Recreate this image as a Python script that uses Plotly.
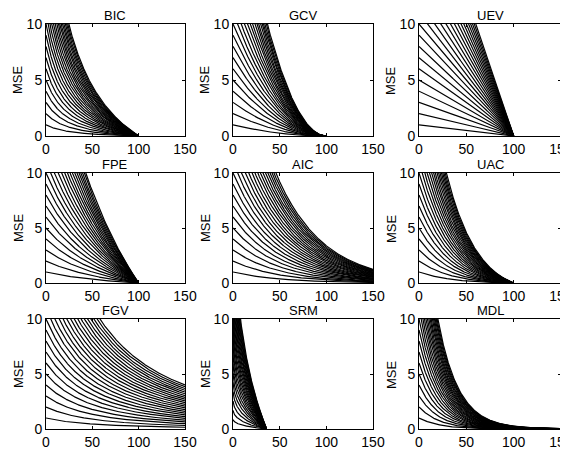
import numpy as np
import plotly.graph_objects as go

# ---- data ----
criteria = ["BIC", "GCV", "UEV", "FPE", "AIC", "UAC", "FGV", "SRM", "MDL"]
levels = [1, 2, 3, 4, 5, 6, 7, 8, 9, 10, 11, 12, 13, 14, 15, 16, 17, 18, 19, 20,
          21, 22, 23, 24, 25]          # criterion value (MSE at h = 0)
N = 100                                 # number of training samples
x_ticks = [0, 50, 100, 150]
y_ticks = [0, 5, 10]
h = np.linspace(0, 150, 1201)           # effective number of parameters


def srm_factor(hh):
    eta = min(4 / np.sqrt(N), 1.0)
    with np.errstate(divide="ignore", invalid="ignore"):
        t = np.where(hh > 0, hh * (np.log(2 * N / np.maximum(hh, 1e-12)) + 1), 0.0)
    eps = (t - np.log(eta / 4)) / N
    f = 1 - np.sqrt(np.clip(eps, 0, None))
    return np.where(f > 0, f, np.nan)


def shrink(name, hh):
    """1 / penalty factor: MSE = criterion / penalty(h)"""
    with np.errstate(divide="ignore", invalid="ignore"):
        if name == "UEV":
            f = (N - hh) / N
        elif name == "FPE":
            f = (N - hh) / (N + hh)
        elif name == "GCV":
            f = np.where(hh <= N, ((N - hh) / N) ** 2, np.nan)
        elif name == "BIC":
            f = (N - hh) / (N + (np.log(N) - 1) * hh)
        elif name == "AIC":
            f = np.exp(-2 * hh / N)
        elif name == "UAC":
            f = (N - hh) / N * np.exp(-2 * hh / N)
        elif name == "FGV":
            f = 1 / (1 + hh / N) ** 2
        elif name == "MDL":
            f = np.exp(-hh * np.log(N) / N)
        elif name == "SRM":
            return srm_factor(hh)
    f = np.asarray(f, dtype=float)
    return np.where(f >= 0, f, np.nan)


# page body has an 8px margin, so the figure is drawn 8px right/down
OFF = 8
W, H = 568 - OFF, 449 - OFF
col_px = [(46, 185), (233, 373), (419, 561)]
row_px = [(24, 136), (173, 283), (319, 429)]
FONT = "Liberation Sans, Arial"

fig = go.Figure()
annotations = []
for i, name in enumerate(criteria):
    r, c = divmod(i, 3)
    ax = "" if i == 0 else str(i + 1)
    f = shrink(name, h)
    xs, ys = [], []
    for lv in levels:
        xs.extend(list(h)); xs.append(None)
        ys.extend(list(lv * f)); ys.append(None)
    fig.add_trace(go.Scatter(x=xs, y=ys, mode="lines",
                             line=dict(color="black", width=1.2),
                             xaxis="x" + ax, yaxis="y" + ax,
                             showlegend=False, hoverinfo="skip",
                             connectgaps=False))
    x0, x1 = col_px[c]
    y0, y1 = row_px[r]
    dx = [(x0 - OFF) / W, (x1 - OFF) / W]
    dy = [1 - (y1 - OFF) / H, 1 - (y0 - OFF) / H]
    axis_common = dict(showline=True, linecolor="black", linewidth=1,
                       mirror="ticks", ticks="inside", ticklen=3,
                       tickcolor="black", showgrid=False, zeroline=False,
                       automargin=False, ticklabeloverflow="allow",
                       tickfont=dict(family=FONT, size=14, color="black"))
    fig.layout["xaxis" + ax] = dict(domain=dx, range=[0, 150], tickvals=x_ticks,
                                    anchor="y" + ax, **axis_common)
    fig.layout["yaxis" + ax] = dict(domain=dy, range=[0, 10], tickvals=y_ticks,
                                    anchor="x" + ax, **axis_common)
    annotations.append(dict(text=name, x=(dx[0] + dx[1]) / 2, y=dy[1],
                            xref="paper", yref="paper", xanchor="center",
                            yanchor="bottom", yshift=-1, showarrow=False,
                            font=dict(family=FONT, size=13, color="black")))
    annotations.append(dict(text="MSE", x=dx[0], y=(dy[0] + dy[1]) / 2,
                            xref="paper", yref="paper", xanchor="center",
                            yanchor="middle", xshift=-28, textangle=-90,
                            showarrow=False,
                            font=dict(family=FONT, size=13, color="black")))

fig.update_layout(width=W, height=H, margin=dict(l=0, r=0, t=0, b=0),
                  plot_bgcolor="white", paper_bgcolor="white",
                  annotations=annotations)
fig.write_html("out.html")
